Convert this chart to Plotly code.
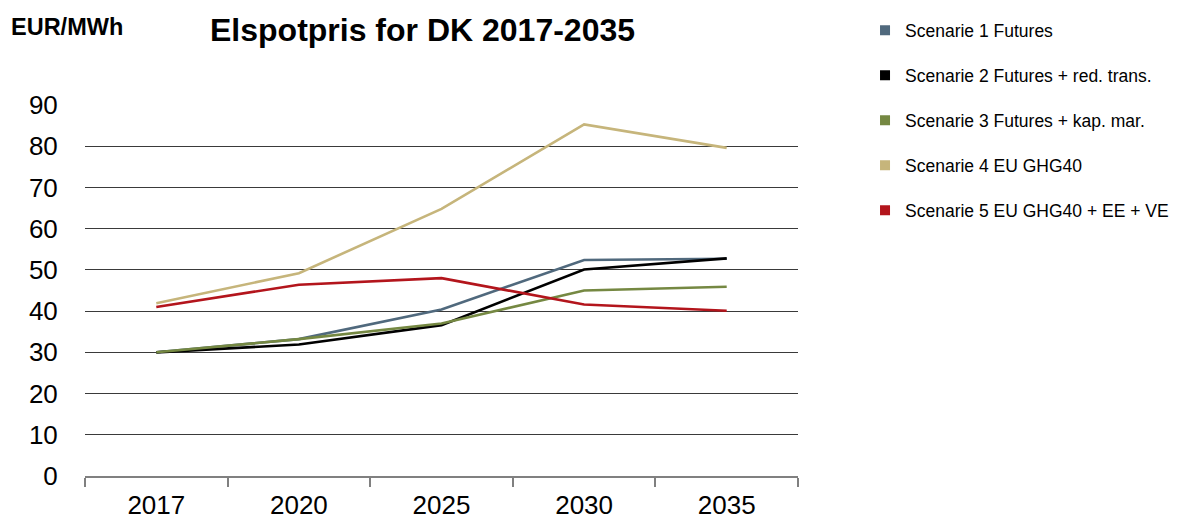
import plotly.graph_objects as go

# Elspot price scenarios for DK, EUR/MWh
years = ["2017", "2020", "2025", "2030", "2035"]
scenarie_1 = [30.0, 33.2, 40.4, 52.4, 52.7]
scenarie_2 = [30.0, 31.9, 36.6, 50.1, 52.8]
scenarie_3 = [30.0, 33.2, 37.0, 45.0, 45.9]
scenarie_4 = [41.9, 49.2, 64.8, 85.3, 79.6]
scenarie_5 = [41.0, 46.4, 48.0, 41.6, 40.1]

series = [
    ("Scenarie 1 Futures", scenarie_1, "#50697D"),
    ("Scenarie 2 Futures + red. trans.", scenarie_2, "#000000"),
    ("Scenarie 3 Futures + kap. mar.", scenarie_3, "#758842"),
    ("Scenarie 4 EU GHG40", scenarie_4, "#C6B57B"),
    ("Scenarie 5 EU GHG40 + EE + VE", scenarie_5, "#B3151C"),
]

FONT = "Liberation Sans, Arial, sans-serif"

fig = go.Figure()

# data lines (legend shown via square-marker entries below)
for name, vals, color in series:
    fig.add_trace(go.Scatter(
        x=years, y=vals, mode="lines", name=name,
        line=dict(color=color, width=2.6), showlegend=False,
    ))

# square legend keys
for i, (name, vals, color) in enumerate(series):
    fig.add_trace(go.Scatter(
        x=[None], y=[None], mode="markers", name=name,
        marker=dict(symbol="square", size=10, color=color),
        legendgroup=f"g{i}", showlegend=True,
    ))

fig.update_layout(
    width=1188, height=520,
    margin=dict(l=85, r=390, t=105, b=44),
    paper_bgcolor="white", plot_bgcolor="white",
    font=dict(family=FONT, color="black"),
    legend=dict(
        x=1.094, y=1.25, xanchor="left", yanchor="top",
        font=dict(size=17.5, family=FONT, color="black"),
        tracegroupgap=19.3, itemwidth=30,
        bgcolor="rgba(0,0,0,0)",
    ),
    annotations=[
        dict(text="<b>Elspotpris for DK 2017-2035</b>", xref="paper", yref="paper",
             x=(422 - 85) / 713, y=1.0 + (105 - 30) / 371,
             xanchor="center", yanchor="middle", showarrow=False,
             font=dict(size=32, family=FONT, color="black")),
        dict(text="<b>EUR/MWh</b>", xref="paper", yref="paper",
             x=(9 - 85) / 713, y=1.0 + (105 - 27) / 371,
             xanchor="left", yanchor="middle", showarrow=False,
             font=dict(size=23.5, family=FONT, color="black")),
    ],
    showlegend=True,
)

fig.update_xaxes(
    type="category", range=[-0.5, 4.5], automargin=False,
    showgrid=False, showline=True, linecolor="#808080", linewidth=1.5,
    ticks="outside", tickson="boundaries", ticklen=9, tickcolor="#808080", tickwidth=1.5,
    ticklabelstandoff=5,
    tickfont=dict(size=26, family=FONT, color="black"),
    zeroline=False,
)
fig.update_yaxes(
    range=[0, 90], dtick=10, tick0=0, automargin=False,
    showgrid=True, gridcolor="#3a3a3a", gridwidth=1,
    showline=False, zeroline=False,
    ticks="outside", ticklen=21, tickcolor="rgba(0,0,0,0)",
    tickfont=dict(size=26, family=FONT, color="black"),
)

fig.write_html("out.html")
